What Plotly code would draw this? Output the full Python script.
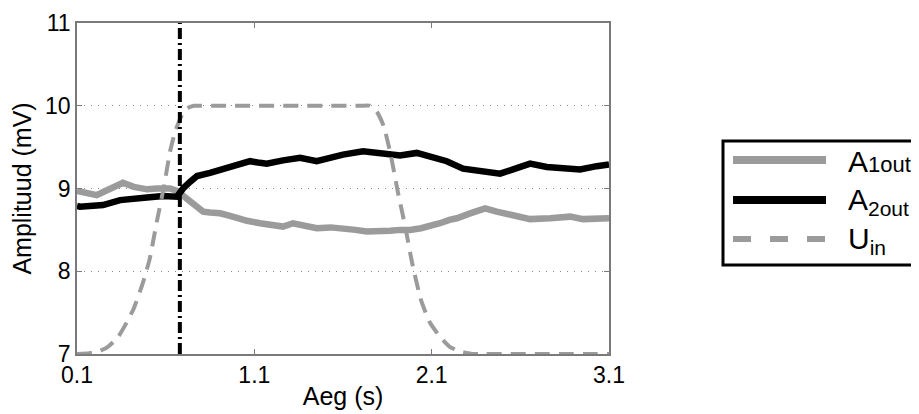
import plotly.graph_objects as go

# ---------------- data ----------------
a1_t = [0.1, 0.117, 0.211, 0.26, 0.31, 0.359, 0.42, 0.495, 0.55, 0.625, 0.664, 0.70, 0.737,
        0.775, 0.811, 0.85, 0.907, 0.963, 1.002, 1.059, 1.132, 1.170, 1.262, 1.318, 1.358,
        1.452, 1.53, 1.60, 1.67, 1.734, 1.80, 1.865, 1.922, 1.978, 2.04, 2.091, 2.147, 2.20,
        2.242, 2.317, 2.401, 2.467, 2.58, 2.655, 2.768, 2.881, 2.954, 3.03, 3.1]
a1_v = [8.97, 8.96, 8.92, 8.97, 9.03, 9.07, 9.02, 8.99, 9.0, 9.0, 8.97, 8.91, 8.83,
        8.77, 8.72, 8.71, 8.70, 8.67, 8.64, 8.61, 8.58, 8.57, 8.54, 8.58, 8.56,
        8.52, 8.53, 8.52, 8.50, 8.48, 8.48, 8.49, 8.50, 8.50, 8.52, 8.54, 8.58, 8.62,
        8.64, 8.70, 8.76, 8.72, 8.66, 8.63, 8.64, 8.66, 8.63, 8.64, 8.64]

a2_t = [0.1, 0.117, 0.247, 0.343, 0.495, 0.585, 0.664, 0.698, 0.737, 0.777, 0.85, 0.963,
        1.059, 1.076, 1.132, 1.170, 1.262, 1.358, 1.452, 1.60, 1.713, 1.826, 1.922, 2.016,
        2.091, 2.185, 2.277, 2.373, 2.486, 2.559, 2.655, 2.749, 2.841, 2.937, 3.031, 3.1]
a2_v = [8.79, 8.78, 8.80, 8.86, 8.89, 8.91, 8.90, 9.0, 9.08, 9.15, 9.19, 9.25,
        9.31, 9.33, 9.31, 9.30, 9.34, 9.37, 9.33, 9.41, 9.45, 9.42, 9.40, 9.43,
        9.38, 9.33, 9.24, 9.21, 9.18, 9.23, 9.30, 9.26, 9.25, 9.23, 9.27, 9.29]

uin_t = [0.1, 0.17, 0.22, 0.27, 0.33, 0.38, 0.42, 0.47, 0.51, 0.55, 0.59, 0.625, 0.655,
         0.69, 0.72, 0.76, 0.80, 1.70, 1.75, 1.79, 1.83, 1.87, 1.91, 1.95, 1.99, 2.04,
         2.09, 2.15, 2.2, 2.26, 2.33, 2.40, 3.1]
uin_v = [7.0, 7.01, 7.03, 7.08, 7.2, 7.38, 7.55, 7.85, 8.15, 8.6, 9.02, 9.45, 9.7,
         9.88, 9.97, 10.0, 10.0, 10.0, 10.0, 9.93, 9.75, 9.4, 8.95, 8.55, 8.1, 7.65,
         7.38, 7.2, 7.09, 7.03, 7.0, 7.0, 7.0]

marker_t = [0.68, 0.68]
marker_v = [7, 11]

x_ticks = [0.1, 1.1, 2.1, 3.1]
x_labels = ["0.1", "1.1", "2.1", "3.1"]
y_ticks = [7, 8, 9, 10, 11]
y_labels = ["7", "8", "9", "10", "11"]

legend_names = ["A<span style=\"font-size:22px\">1out</span>",
                "A<sub>2out</sub>",
                "U<sub>in</sub>"]

GRAY = "#9b9b9b"
BLACK = "#000000"

# ---------------- figure ----------------
W, H = 919, 414
OFF = 8  # default body margin of the html page
# target plot area on screen: x 77..609, y 23..354
L = 77 - OFF
T = 23 - OFF
R = W + OFF - 609
B = H + OFF - 354
pw, ph = W - L - R, H - T - B


def px(x):
    return (x - OFF - L) / pw


def py(y):
    return (H + OFF - B - y) / ph


fig = go.Figure()
fig.add_trace(go.Scatter(x=a1_t, y=a1_v, mode="lines", line=dict(color=GRAY, width=6.5),
                         showlegend=False))
fig.add_trace(go.Scatter(x=a2_t, y=a2_v, mode="lines", line=dict(color=BLACK, width=6.5),
                         showlegend=False))
fig.add_trace(go.Scatter(x=uin_t, y=uin_v, mode="lines",
                         line=dict(color=GRAY, width=4, dash="15px,9px", shape="spline",
                                   smoothing=0.5),
                         showlegend=False))
fig.add_trace(go.Scatter(x=marker_t, y=marker_v, mode="lines",
                         line=dict(color=BLACK, width=4, dash="11px,4px,2px,4px"),
                         showlegend=False))

# manual legend (MATLAB style)
shapes = [dict(type="rect", xref="paper", yref="paper",
               x0=px(723), x1=px(935), y0=py(141), y1=py(265),
               line=dict(color=BLACK, width=3), fillcolor="white", layer="below")]
leg_y = [160, 200, 239]
leg_style = [dict(color=GRAY, width=8), dict(color=BLACK, width=8),
             dict(color=GRAY, width=6, dash="18px,19px")]
annotations = []
for name, yy, st in zip(legend_names, leg_y, leg_style):
    shapes.append(dict(type="line", xref="paper", yref="paper",
                       x0=px(733), x1=px(826), y0=py(yy), y1=py(yy), line=st))
    annotations.append(dict(xref="paper", yref="paper", x=px(846), y=py(yy + 1),
                            xanchor="left", yanchor="middle", text=name, showarrow=False,
                            font=dict(size=30, color=BLACK,
                                      family="Liberation Sans, Arial, sans-serif")))

fig.update_layout(
    width=W, height=H,
    margin=dict(l=L, r=R, t=T, b=B, autoexpand=False),
    paper_bgcolor="white", plot_bgcolor="white",
    font=dict(family="Liberation Sans, Arial, sans-serif", color=BLACK, size=22),
    shapes=shapes, annotations=annotations,
    xaxis=dict(range=[0.1, 3.1], tickvals=x_ticks, ticktext=x_labels,
               showgrid=False, zeroline=False, showline=True, linecolor="#7a7a7a",
               linewidth=1.5, mirror="ticks", ticks="inside", ticklen=5,
               tickcolor="#7a7a7a", tickfont=dict(size=23),
               title=dict(text="Aeg (s)", font=dict(size=25), standoff=0)),
    yaxis=dict(range=[7, 11], tickvals=y_ticks, ticktext=y_labels,
               showgrid=True, gridcolor="#8a8a8a", gridwidth=1, griddash="1px,6px",
               zeroline=False, showline=True, linecolor="#7a7a7a", linewidth=1.5,
               mirror="ticks", ticks="inside", ticklen=5, tickcolor="#7a7a7a",
               tickfont=dict(size=23),
               title=dict(text="Amplituud (mV)", font=dict(size=25), standoff=12)),
)

fig.write_html("out.html")
